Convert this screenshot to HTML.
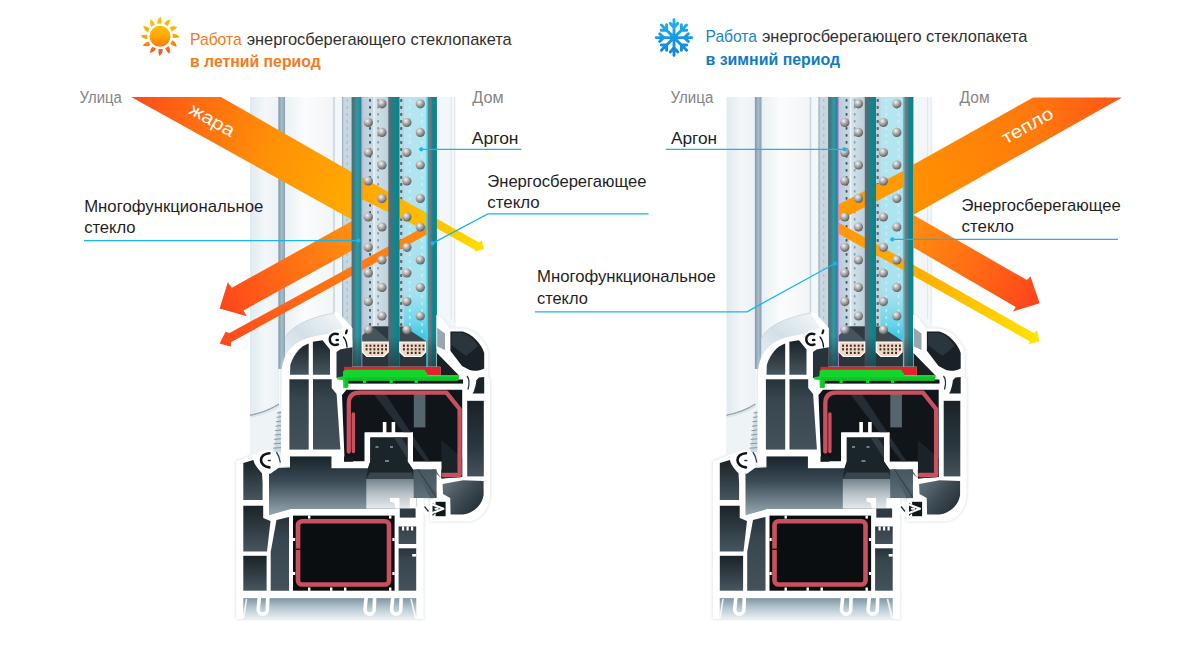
<!DOCTYPE html>
<html lang="ru"><head><meta charset="utf-8"><title>Энергосберегающий стеклопакет</title>
<style>html,body{margin:0;padding:0;background:#fff}body{width:1203px;height:650px;overflow:hidden;font-family:"Liberation Sans",sans-serif}svg{display:block}text{font-family:"Liberation Sans",sans-serif}</style></head><body>
<svg width="1203" height="650" viewBox="0 0 1203 650">

<defs>
<radialGradient id="ball" cx="0.38" cy="0.32" r="0.7">
 <stop offset="0" stop-color="#f4f4f4"/><stop offset="0.5" stop-color="#a8a8a8"/><stop offset="1" stop-color="#5a5a5a"/>
</radialGradient>
<linearGradient id="bgL" x1="250" x2="284" gradientUnits="userSpaceOnUse">
 <stop offset="0" stop-color="#e0eaf0"/><stop offset="0.45" stop-color="#f3f7f9"/><stop offset="1" stop-color="#e8eff3"/>
</linearGradient>
<linearGradient id="bgM" x1="285" x2="342" gradientUnits="userSpaceOnUse">
 <stop offset="0" stop-color="#e9f0f4"/><stop offset="0.35" stop-color="#fbfcfd"/><stop offset="0.8" stop-color="#f3f6f8"/><stop offset="1" stop-color="#dfe7ec"/>
</linearGradient>
<linearGradient id="stripe" x1="278.4" x2="285" gradientUnits="userSpaceOnUse">
 <stop offset="0" stop-color="#7d97a5"/><stop offset="0.5" stop-color="#a9bdc8"/><stop offset="1" stop-color="#86a0ad"/>
</linearGradient>
<linearGradient id="gOut" x1="351.5" x2="361.5" gradientUnits="userSpaceOnUse">
 <stop offset="0" stop-color="#4f6b78"/><stop offset="0.3" stop-color="#3f7f88"/><stop offset="0.55" stop-color="#2f9aa0"/><stop offset="1" stop-color="#1d868c"/>
</linearGradient>
<linearGradient id="gMid" x1="388" x2="399.5" gradientUnits="userSpaceOnUse">
 <stop offset="0" stop-color="#56707c"/><stop offset="0.35" stop-color="#4b6c78"/><stop offset="0.45" stop-color="#12878e"/><stop offset="1" stop-color="#0f8088"/>
</linearGradient>
<linearGradient id="gIn" x1="427.5" x2="437" gradientUnits="userSpaceOnUse">
 <stop offset="0" stop-color="#6c848e"/><stop offset="0.4" stop-color="#5d7681"/><stop offset="0.5" stop-color="#12878e"/><stop offset="1" stop-color="#0f8088"/>
</linearGradient>
<linearGradient id="ch1" x1="361.5" x2="388.5" gradientUnits="userSpaceOnUse">
 <stop offset="0" stop-color="#b9cdd6"/><stop offset="0.4" stop-color="#c6d7df"/><stop offset="0.5" stop-color="#d6e3e9"/><stop offset="1" stop-color="#bccfd8"/>
</linearGradient>
<linearGradient id="ch2v" y1="97" y2="342" x1="0" x2="0" gradientUnits="userSpaceOnUse">
 <stop offset="0" stop-color="#b7e6f0"/><stop offset="0.8" stop-color="#a6e2ee"/><stop offset="0.92" stop-color="#6fd6ea"/><stop offset="1" stop-color="#2cc2e2"/>
</linearGradient>
<linearGradient id="hotIn" x1="131" y1="97" x2="352" y2="200" gradientUnits="userSpaceOnUse">
 <stop offset="0" stop-color="#ff4a1c"/><stop offset="0.3" stop-color="#ff7010"/><stop offset="0.6" stop-color="#ff9006"/><stop offset="1" stop-color="#ffaa00"/>
</linearGradient>
<linearGradient id="hotThru" x1="361" y1="185" x2="484" y2="248" gradientUnits="userSpaceOnUse">
 <stop offset="0" stop-color="#ffa600"/><stop offset="0.55" stop-color="#ffbe00"/><stop offset="1" stop-color="#ffe000"/>
</linearGradient>
<linearGradient id="hotRefl" x1="352" y1="235" x2="222" y2="305" gradientUnits="userSpaceOnUse">
 <stop offset="0" stop-color="#ff8e12"/><stop offset="0.5" stop-color="#ff6d14"/><stop offset="1" stop-color="#ff461c"/>
</linearGradient>
<linearGradient id="hotRefl2" x1="426" y1="230" x2="222" y2="340" gradientUnits="userSpaceOnUse">
 <stop offset="0" stop-color="#ff8a10"/><stop offset="0.5" stop-color="#ff7212"/><stop offset="1" stop-color="#ff4a1c"/>
</linearGradient>
<linearGradient id="warmIn" x1="1122" y1="97" x2="913" y2="200" gradientUnits="userSpaceOnUse">
 <stop offset="0" stop-color="#ff5418"/><stop offset="0.4" stop-color="#ff7a0c"/><stop offset="1" stop-color="#ff9200"/>
</linearGradient>
<linearGradient id="warmRefl" x1="913" y1="230" x2="1038" y2="300" gradientUnits="userSpaceOnUse">
 <stop offset="0" stop-color="#ff8c10"/><stop offset="0.5" stop-color="#ff6c14"/><stop offset="1" stop-color="#ff441c"/>
</linearGradient>
<linearGradient id="warmRefl2" x1="839" y1="225" x2="1038" y2="338" gradientUnits="userSpaceOnUse">
 <stop offset="0" stop-color="#ff960c"/><stop offset="0.5" stop-color="#ffb400"/><stop offset="1" stop-color="#ffe400"/>
</linearGradient>
<linearGradient id="rebate" x1="0" y1="456" x2="0" y2="514" gradientUnits="userSpaceOnUse">
 <stop offset="0" stop-color="#18222a"/><stop offset="0.45" stop-color="#3c4c57"/><stop offset="1" stop-color="#93a5af"/>
</linearGradient>
<linearGradient id="block" x1="0" y1="479" x2="0" y2="508" gradientUnits="userSpaceOnUse">
 <stop offset="0" stop-color="#74848c"/><stop offset="0.5" stop-color="#b6c1c7"/><stop offset="1" stop-color="#e2e8eb"/>
</linearGradient>
<linearGradient id="chv" x1="0" y1="0" x2="0" y2="1">
 <stop offset="0" stop-color="#27333a"/><stop offset="0.3" stop-color="#38464f"/><stop offset="1" stop-color="#43515a"/>
</linearGradient>
<linearGradient id="chH" x1="0" y1="0" x2="0" y2="1">
 <stop offset="0" stop-color="#192228"/><stop offset="0.6" stop-color="#2b373e"/><stop offset="1" stop-color="#44525b"/>
</linearGradient>
<linearGradient id="chv2" x1="0" y1="0" x2="0" y2="1">
 <stop offset="0" stop-color="#1a2227"/><stop offset="1" stop-color="#46565f"/>
</linearGradient>
<linearGradient id="chh" x1="0" y1="0" x2="1" y2="0">
 <stop offset="0" stop-color="#2a363d"/><stop offset="1" stop-color="#56666f"/>
</linearGradient>
<linearGradient id="nose" x1="445" y1="482" x2="482" y2="514" gradientUnits="userSpaceOnUse">
 <stop offset="0" stop-color="#63737c"/><stop offset="0.5" stop-color="#3b4951"/><stop offset="1" stop-color="#1f2a30"/>
</linearGradient>
<linearGradient id="under" x1="0" y1="598" x2="0" y2="619" gradientUnits="userSpaceOnUse">
 <stop offset="0" stop-color="#7f95a3"/><stop offset="0.45" stop-color="#b3c4ce"/><stop offset="1" stop-color="#eaf0f4"/>
</linearGradient>
<linearGradient id="sashSurf" x1="285" y1="365" x2="330" y2="312" gradientUnits="userSpaceOnUse">
 <stop offset="0" stop-color="#e9eff3"/><stop offset="0.5" stop-color="#d3dfe7"/><stop offset="1" stop-color="#eef3f6"/>
</linearGradient>
<linearGradient id="gdark" x1="0" y1="336" x2="0" y2="367" gradientUnits="userSpaceOnUse"><stop offset="0" stop-color="#1c272d" stop-opacity="0"/><stop offset="0.5" stop-color="#1c272d" stop-opacity="0.35"/><stop offset="1" stop-color="#1c272d" stop-opacity="0.6"/></linearGradient>
<filter id="halo" x="-10%" y="-10%" width="120%" height="120%"><feGaussianBlur stdDeviation="1.6"/></filter>
<linearGradient id="sunG" x1="0" y1="17" x2="0" y2="56" gradientUnits="userSpaceOnUse">
 <stop offset="0" stop-color="#ffc400"/><stop offset="0.45" stop-color="#ffa800"/><stop offset="0.75" stop-color="#ff7a14"/><stop offset="1" stop-color="#ff3c22"/>
</linearGradient>
<linearGradient id="sunD" x1="0" y1="26" x2="0" y2="47" gradientUnits="userSpaceOnUse">
 <stop offset="0" stop-color="#ffbe00"/><stop offset="0.5" stop-color="#ffa600"/><stop offset="1" stop-color="#ff7410"/>
</linearGradient>
<linearGradient id="snowG" x1="0" y1="19" x2="0" y2="56" gradientUnits="userSpaceOnUse">
 <stop offset="0" stop-color="#22b2f0"/><stop offset="1" stop-color="#0e84d6"/>
</linearGradient>

<g id="winback"><rect x="250" y="97" width="29" height="365" fill="url(#bgL)"/>
<rect x="284.5" y="97" width="58" height="270" fill="url(#bgM)"/>
<rect x="278.4" y="97" width="6.6" height="272" fill="url(#stripe)"/>
<rect x="333.2" y="97" width="9" height="240" fill="#f4f7f9"/><rect x="333.2" y="97" width="1.6" height="240" fill="#cbd7df"/>
<rect x="342" y="97" width="10" height="260" fill="#c9d8e0"/>
<rect x="342" y="97" width="1.2" height="260" fill="#9fb3be"/>
<rect x="346.4" y="99.0" width="1.6" height="3" rx="0.7" fill="#aebfc9" opacity="0.9"/>
<rect x="346.4" y="106.0" width="1.6" height="3" rx="0.7" fill="#aebfc9" opacity="0.9"/>
<rect x="346.4" y="113.0" width="1.6" height="3" rx="0.7" fill="#aebfc9" opacity="0.9"/>
<rect x="346.4" y="120.0" width="1.6" height="3" rx="0.7" fill="#aebfc9" opacity="0.9"/>
<rect x="346.4" y="127.0" width="1.6" height="3" rx="0.7" fill="#aebfc9" opacity="0.9"/>
<rect x="346.4" y="134.0" width="1.6" height="3" rx="0.7" fill="#aebfc9" opacity="0.9"/>
<rect x="346.4" y="141.0" width="1.6" height="3" rx="0.7" fill="#aebfc9" opacity="0.9"/>
<rect x="346.4" y="148.0" width="1.6" height="3" rx="0.7" fill="#aebfc9" opacity="0.9"/>
<rect x="346.4" y="155.0" width="1.6" height="3" rx="0.7" fill="#aebfc9" opacity="0.9"/>
<rect x="346.4" y="162.0" width="1.6" height="3" rx="0.7" fill="#aebfc9" opacity="0.9"/>
<rect x="346.4" y="169.0" width="1.6" height="3" rx="0.7" fill="#aebfc9" opacity="0.9"/>
<rect x="346.4" y="176.0" width="1.6" height="3" rx="0.7" fill="#aebfc9" opacity="0.9"/>
<rect x="346.4" y="183.0" width="1.6" height="3" rx="0.7" fill="#aebfc9" opacity="0.9"/>
<rect x="346.4" y="190.0" width="1.6" height="3" rx="0.7" fill="#aebfc9" opacity="0.9"/>
<rect x="346.4" y="197.0" width="1.6" height="3" rx="0.7" fill="#aebfc9" opacity="0.9"/>
<rect x="346.4" y="204.0" width="1.6" height="3" rx="0.7" fill="#aebfc9" opacity="0.9"/>
<rect x="346.4" y="211.0" width="1.6" height="3" rx="0.7" fill="#aebfc9" opacity="0.9"/>
<rect x="346.4" y="218.0" width="1.6" height="3" rx="0.7" fill="#aebfc9" opacity="0.9"/>
<rect x="346.4" y="225.0" width="1.6" height="3" rx="0.7" fill="#aebfc9" opacity="0.9"/>
<rect x="346.4" y="232.0" width="1.6" height="3" rx="0.7" fill="#aebfc9" opacity="0.9"/>
<rect x="346.4" y="239.0" width="1.6" height="3" rx="0.7" fill="#aebfc9" opacity="0.9"/>
<rect x="346.4" y="246.0" width="1.6" height="3" rx="0.7" fill="#aebfc9" opacity="0.9"/>
<rect x="346.4" y="253.0" width="1.6" height="3" rx="0.7" fill="#aebfc9" opacity="0.9"/>
<rect x="346.4" y="260.0" width="1.6" height="3" rx="0.7" fill="#aebfc9" opacity="0.9"/>
<rect x="346.4" y="267.0" width="1.6" height="3" rx="0.7" fill="#aebfc9" opacity="0.9"/>
<rect x="346.4" y="274.0" width="1.6" height="3" rx="0.7" fill="#aebfc9" opacity="0.9"/>
<rect x="346.4" y="281.0" width="1.6" height="3" rx="0.7" fill="#aebfc9" opacity="0.9"/>
<rect x="346.4" y="288.0" width="1.6" height="3" rx="0.7" fill="#aebfc9" opacity="0.9"/>
<rect x="346.4" y="295.0" width="1.6" height="3" rx="0.7" fill="#aebfc9" opacity="0.9"/>
<rect x="346.4" y="302.0" width="1.6" height="3" rx="0.7" fill="#aebfc9" opacity="0.9"/>
<rect x="346.4" y="309.0" width="1.6" height="3" rx="0.7" fill="#aebfc9" opacity="0.9"/>
<rect x="346.4" y="316.0" width="1.6" height="3" rx="0.7" fill="#aebfc9" opacity="0.9"/>
<rect x="346.4" y="323.0" width="1.6" height="3" rx="0.7" fill="#aebfc9" opacity="0.9"/>
<rect x="346.4" y="330.0" width="1.6" height="3" rx="0.7" fill="#aebfc9" opacity="0.9"/>
<rect x="346.4" y="337.0" width="1.6" height="3" rx="0.7" fill="#aebfc9" opacity="0.9"/>
<rect x="346.4" y="344.0" width="1.6" height="3" rx="0.7" fill="#aebfc9" opacity="0.9"/>
<rect x="436.5" y="97" width="19.5" height="230" fill="#f4f7f9"/>
<rect x="450.6" y="97" width="1" height="222" fill="#dde6eb"/>
<rect x="454" y="97" width="1" height="226" fill="#e3eaef"/>
<rect x="361.5" y="97" width="27.5" height="260" fill="url(#ch1)"/>
<rect x="373.4" y="97" width="1.3" height="245" fill="#eef4f7"/>
<rect x="369.1" y="99.0" width="1.9" height="2.8" rx="0.7" fill="#2d5a78" opacity="1"/>
<rect x="369.1" y="106.0" width="1.9" height="2.8" rx="0.7" fill="#2d5a78" opacity="1"/>
<rect x="369.1" y="113.0" width="1.9" height="2.8" rx="0.7" fill="#2d5a78" opacity="1"/>
<rect x="369.1" y="120.0" width="1.9" height="2.8" rx="0.7" fill="#2d5a78" opacity="1"/>
<rect x="369.1" y="127.0" width="1.9" height="2.8" rx="0.7" fill="#2d5a78" opacity="1"/>
<rect x="369.1" y="134.0" width="1.9" height="2.8" rx="0.7" fill="#2d5a78" opacity="1"/>
<rect x="369.1" y="141.0" width="1.9" height="2.8" rx="0.7" fill="#2d5a78" opacity="1"/>
<rect x="369.1" y="148.0" width="1.9" height="2.8" rx="0.7" fill="#2d5a78" opacity="1"/>
<rect x="369.1" y="155.0" width="1.9" height="2.8" rx="0.7" fill="#2d5a78" opacity="1"/>
<rect x="369.1" y="162.0" width="1.9" height="2.8" rx="0.7" fill="#2d5a78" opacity="1"/>
<rect x="369.1" y="169.0" width="1.9" height="2.8" rx="0.7" fill="#2d5a78" opacity="1"/>
<rect x="369.1" y="176.0" width="1.9" height="2.8" rx="0.7" fill="#2d5a78" opacity="1"/>
<rect x="369.1" y="183.0" width="1.9" height="2.8" rx="0.7" fill="#2d5a78" opacity="1"/>
<rect x="369.1" y="190.0" width="1.9" height="2.8" rx="0.7" fill="#2d5a78" opacity="1"/>
<rect x="369.1" y="197.0" width="1.9" height="2.8" rx="0.7" fill="#2d5a78" opacity="1"/>
<rect x="369.1" y="204.0" width="1.9" height="2.8" rx="0.7" fill="#2d5a78" opacity="1"/>
<rect x="369.1" y="211.0" width="1.9" height="2.8" rx="0.7" fill="#2d5a78" opacity="1"/>
<rect x="369.1" y="218.0" width="1.9" height="2.8" rx="0.7" fill="#2d5a78" opacity="1"/>
<rect x="369.1" y="225.0" width="1.9" height="2.8" rx="0.7" fill="#2d5a78" opacity="1"/>
<rect x="369.1" y="232.0" width="1.9" height="2.8" rx="0.7" fill="#2d5a78" opacity="1"/>
<rect x="369.1" y="239.0" width="1.9" height="2.8" rx="0.7" fill="#2d5a78" opacity="1"/>
<rect x="369.1" y="246.0" width="1.9" height="2.8" rx="0.7" fill="#2d5a78" opacity="1"/>
<rect x="369.1" y="253.0" width="1.9" height="2.8" rx="0.7" fill="#2d5a78" opacity="1"/>
<rect x="369.1" y="260.0" width="1.9" height="2.8" rx="0.7" fill="#2d5a78" opacity="1"/>
<rect x="369.1" y="267.0" width="1.9" height="2.8" rx="0.7" fill="#2d5a78" opacity="1"/>
<rect x="369.1" y="274.0" width="1.9" height="2.8" rx="0.7" fill="#2d5a78" opacity="1"/>
<rect x="369.1" y="281.0" width="1.9" height="2.8" rx="0.7" fill="#2d5a78" opacity="1"/>
<rect x="369.1" y="288.0" width="1.9" height="2.8" rx="0.7" fill="#2d5a78" opacity="1"/>
<rect x="369.1" y="295.0" width="1.9" height="2.8" rx="0.7" fill="#2d5a78" opacity="1"/>
<rect x="369.1" y="302.0" width="1.9" height="2.8" rx="0.7" fill="#2d5a78" opacity="1"/>
<rect x="369.1" y="309.0" width="1.9" height="2.8" rx="0.7" fill="#2d5a78" opacity="1"/>
<rect x="369.1" y="316.0" width="1.9" height="2.8" rx="0.7" fill="#2d5a78" opacity="1"/>
<rect x="369.1" y="323.0" width="1.9" height="2.8" rx="0.7" fill="#2d5a78" opacity="1"/>
<rect x="377.3" y="99.0" width="1.7" height="2.6" rx="0.7" fill="#5f8fae" opacity="0.8"/>
<rect x="377.3" y="106.0" width="1.7" height="2.6" rx="0.7" fill="#5f8fae" opacity="0.8"/>
<rect x="377.3" y="113.0" width="1.7" height="2.6" rx="0.7" fill="#5f8fae" opacity="0.8"/>
<rect x="377.3" y="120.0" width="1.7" height="2.6" rx="0.7" fill="#5f8fae" opacity="0.8"/>
<rect x="377.3" y="127.0" width="1.7" height="2.6" rx="0.7" fill="#5f8fae" opacity="0.8"/>
<rect x="377.3" y="134.0" width="1.7" height="2.6" rx="0.7" fill="#5f8fae" opacity="0.8"/>
<rect x="377.3" y="141.0" width="1.7" height="2.6" rx="0.7" fill="#5f8fae" opacity="0.8"/>
<rect x="377.3" y="148.0" width="1.7" height="2.6" rx="0.7" fill="#5f8fae" opacity="0.8"/>
<rect x="377.3" y="155.0" width="1.7" height="2.6" rx="0.7" fill="#5f8fae" opacity="0.8"/>
<rect x="377.3" y="162.0" width="1.7" height="2.6" rx="0.7" fill="#5f8fae" opacity="0.8"/>
<rect x="377.3" y="169.0" width="1.7" height="2.6" rx="0.7" fill="#5f8fae" opacity="0.8"/>
<rect x="377.3" y="176.0" width="1.7" height="2.6" rx="0.7" fill="#5f8fae" opacity="0.8"/>
<rect x="377.3" y="183.0" width="1.7" height="2.6" rx="0.7" fill="#5f8fae" opacity="0.8"/>
<rect x="377.3" y="190.0" width="1.7" height="2.6" rx="0.7" fill="#5f8fae" opacity="0.8"/>
<rect x="377.3" y="197.0" width="1.7" height="2.6" rx="0.7" fill="#5f8fae" opacity="0.8"/>
<rect x="377.3" y="204.0" width="1.7" height="2.6" rx="0.7" fill="#5f8fae" opacity="0.8"/>
<rect x="377.3" y="211.0" width="1.7" height="2.6" rx="0.7" fill="#5f8fae" opacity="0.8"/>
<rect x="377.3" y="218.0" width="1.7" height="2.6" rx="0.7" fill="#5f8fae" opacity="0.8"/>
<rect x="377.3" y="225.0" width="1.7" height="2.6" rx="0.7" fill="#5f8fae" opacity="0.8"/>
<rect x="377.3" y="232.0" width="1.7" height="2.6" rx="0.7" fill="#5f8fae" opacity="0.8"/>
<rect x="377.3" y="239.0" width="1.7" height="2.6" rx="0.7" fill="#5f8fae" opacity="0.8"/>
<rect x="377.3" y="246.0" width="1.7" height="2.6" rx="0.7" fill="#5f8fae" opacity="0.8"/>
<rect x="377.3" y="253.0" width="1.7" height="2.6" rx="0.7" fill="#5f8fae" opacity="0.8"/>
<rect x="377.3" y="260.0" width="1.7" height="2.6" rx="0.7" fill="#5f8fae" opacity="0.8"/>
<rect x="377.3" y="267.0" width="1.7" height="2.6" rx="0.7" fill="#5f8fae" opacity="0.8"/>
<rect x="377.3" y="274.0" width="1.7" height="2.6" rx="0.7" fill="#5f8fae" opacity="0.8"/>
<rect x="377.3" y="281.0" width="1.7" height="2.6" rx="0.7" fill="#5f8fae" opacity="0.8"/>
<rect x="377.3" y="288.0" width="1.7" height="2.6" rx="0.7" fill="#5f8fae" opacity="0.8"/>
<rect x="377.3" y="295.0" width="1.7" height="2.6" rx="0.7" fill="#5f8fae" opacity="0.8"/>
<rect x="377.3" y="302.0" width="1.7" height="2.6" rx="0.7" fill="#5f8fae" opacity="0.8"/>
<rect x="377.3" y="309.0" width="1.7" height="2.6" rx="0.7" fill="#5f8fae" opacity="0.8"/>
<rect x="377.3" y="316.0" width="1.7" height="2.6" rx="0.7" fill="#5f8fae" opacity="0.8"/>
<rect x="377.3" y="323.0" width="1.7" height="2.6" rx="0.7" fill="#5f8fae" opacity="0.8"/>
<rect x="399.3" y="97" width="27.5" height="260" fill="url(#ch2v)"/>
<rect x="399.3" y="97" width="4.7" height="245" fill="#c4d2d9"/>
<rect x="400.1" y="99.0" width="2.2" height="3" rx="0.7" fill="#4a6a7e" opacity="1"/>
<rect x="400.1" y="106.0" width="2.2" height="3" rx="0.7" fill="#4a6a7e" opacity="1"/>
<rect x="400.1" y="113.0" width="2.2" height="3" rx="0.7" fill="#4a6a7e" opacity="1"/>
<rect x="400.1" y="120.0" width="2.2" height="3" rx="0.7" fill="#4a6a7e" opacity="1"/>
<rect x="400.1" y="127.0" width="2.2" height="3" rx="0.7" fill="#4a6a7e" opacity="1"/>
<rect x="400.1" y="134.0" width="2.2" height="3" rx="0.7" fill="#4a6a7e" opacity="1"/>
<rect x="400.1" y="141.0" width="2.2" height="3" rx="0.7" fill="#4a6a7e" opacity="1"/>
<rect x="400.1" y="148.0" width="2.2" height="3" rx="0.7" fill="#4a6a7e" opacity="1"/>
<rect x="400.1" y="155.0" width="2.2" height="3" rx="0.7" fill="#4a6a7e" opacity="1"/>
<rect x="400.1" y="162.0" width="2.2" height="3" rx="0.7" fill="#4a6a7e" opacity="1"/>
<rect x="400.1" y="169.0" width="2.2" height="3" rx="0.7" fill="#4a6a7e" opacity="1"/>
<rect x="400.1" y="176.0" width="2.2" height="3" rx="0.7" fill="#4a6a7e" opacity="1"/>
<rect x="400.1" y="183.0" width="2.2" height="3" rx="0.7" fill="#4a6a7e" opacity="1"/>
<rect x="400.1" y="190.0" width="2.2" height="3" rx="0.7" fill="#4a6a7e" opacity="1"/>
<rect x="400.1" y="197.0" width="2.2" height="3" rx="0.7" fill="#4a6a7e" opacity="1"/>
<rect x="400.1" y="204.0" width="2.2" height="3" rx="0.7" fill="#4a6a7e" opacity="1"/>
<rect x="400.1" y="211.0" width="2.2" height="3" rx="0.7" fill="#4a6a7e" opacity="1"/>
<rect x="400.1" y="218.0" width="2.2" height="3" rx="0.7" fill="#4a6a7e" opacity="1"/>
<rect x="400.1" y="225.0" width="2.2" height="3" rx="0.7" fill="#4a6a7e" opacity="1"/>
<rect x="400.1" y="232.0" width="2.2" height="3" rx="0.7" fill="#4a6a7e" opacity="1"/>
<rect x="400.1" y="239.0" width="2.2" height="3" rx="0.7" fill="#4a6a7e" opacity="1"/>
<rect x="400.1" y="246.0" width="2.2" height="3" rx="0.7" fill="#4a6a7e" opacity="1"/>
<rect x="400.1" y="253.0" width="2.2" height="3" rx="0.7" fill="#4a6a7e" opacity="1"/>
<rect x="400.1" y="260.0" width="2.2" height="3" rx="0.7" fill="#4a6a7e" opacity="1"/>
<rect x="400.1" y="267.0" width="2.2" height="3" rx="0.7" fill="#4a6a7e" opacity="1"/>
<rect x="400.1" y="274.0" width="2.2" height="3" rx="0.7" fill="#4a6a7e" opacity="1"/>
<rect x="400.1" y="281.0" width="2.2" height="3" rx="0.7" fill="#4a6a7e" opacity="1"/>
<rect x="400.1" y="288.0" width="2.2" height="3" rx="0.7" fill="#4a6a7e" opacity="1"/>
<rect x="400.1" y="295.0" width="2.2" height="3" rx="0.7" fill="#4a6a7e" opacity="1"/>
<rect x="400.1" y="302.0" width="2.2" height="3" rx="0.7" fill="#4a6a7e" opacity="1"/>
<rect x="400.1" y="309.0" width="2.2" height="3" rx="0.7" fill="#4a6a7e" opacity="1"/>
<rect x="400.1" y="316.0" width="2.2" height="3" rx="0.7" fill="#4a6a7e" opacity="1"/>
<rect x="400.1" y="323.0" width="2.2" height="3" rx="0.7" fill="#4a6a7e" opacity="1"/>
<rect x="409.0" y="99.0" width="1.6" height="3" rx="0.7" fill="#d6f3f8" opacity="0.8"/>
<rect x="409.0" y="106.0" width="1.6" height="3" rx="0.7" fill="#d6f3f8" opacity="0.8"/>
<rect x="409.0" y="113.0" width="1.6" height="3" rx="0.7" fill="#d6f3f8" opacity="0.8"/>
<rect x="409.0" y="120.0" width="1.6" height="3" rx="0.7" fill="#d6f3f8" opacity="0.8"/>
<rect x="409.0" y="127.0" width="1.6" height="3" rx="0.7" fill="#d6f3f8" opacity="0.8"/>
<rect x="409.0" y="134.0" width="1.6" height="3" rx="0.7" fill="#d6f3f8" opacity="0.8"/>
<rect x="409.0" y="141.0" width="1.6" height="3" rx="0.7" fill="#d6f3f8" opacity="0.8"/>
<rect x="409.0" y="148.0" width="1.6" height="3" rx="0.7" fill="#d6f3f8" opacity="0.8"/>
<rect x="409.0" y="155.0" width="1.6" height="3" rx="0.7" fill="#d6f3f8" opacity="0.8"/>
<rect x="409.0" y="162.0" width="1.6" height="3" rx="0.7" fill="#d6f3f8" opacity="0.8"/>
<rect x="409.0" y="169.0" width="1.6" height="3" rx="0.7" fill="#d6f3f8" opacity="0.8"/>
<rect x="409.0" y="176.0" width="1.6" height="3" rx="0.7" fill="#d6f3f8" opacity="0.8"/>
<rect x="409.0" y="183.0" width="1.6" height="3" rx="0.7" fill="#d6f3f8" opacity="0.8"/>
<rect x="409.0" y="190.0" width="1.6" height="3" rx="0.7" fill="#d6f3f8" opacity="0.8"/>
<rect x="409.0" y="197.0" width="1.6" height="3" rx="0.7" fill="#d6f3f8" opacity="0.8"/>
<rect x="409.0" y="204.0" width="1.6" height="3" rx="0.7" fill="#d6f3f8" opacity="0.8"/>
<rect x="409.0" y="211.0" width="1.6" height="3" rx="0.7" fill="#d6f3f8" opacity="0.8"/>
<rect x="409.0" y="218.0" width="1.6" height="3" rx="0.7" fill="#d6f3f8" opacity="0.8"/>
<rect x="409.0" y="225.0" width="1.6" height="3" rx="0.7" fill="#d6f3f8" opacity="0.8"/>
<rect x="409.0" y="232.0" width="1.6" height="3" rx="0.7" fill="#d6f3f8" opacity="0.8"/>
<rect x="409.0" y="239.0" width="1.6" height="3" rx="0.7" fill="#d6f3f8" opacity="0.8"/>
<rect x="409.0" y="246.0" width="1.6" height="3" rx="0.7" fill="#d6f3f8" opacity="0.8"/>
<rect x="409.0" y="253.0" width="1.6" height="3" rx="0.7" fill="#d6f3f8" opacity="0.8"/>
<rect x="409.0" y="260.0" width="1.6" height="3" rx="0.7" fill="#d6f3f8" opacity="0.8"/>
<rect x="409.0" y="267.0" width="1.6" height="3" rx="0.7" fill="#d6f3f8" opacity="0.8"/>
<rect x="409.0" y="274.0" width="1.6" height="3" rx="0.7" fill="#d6f3f8" opacity="0.8"/>
<rect x="409.0" y="281.0" width="1.6" height="3" rx="0.7" fill="#d6f3f8" opacity="0.8"/>
<rect x="409.0" y="288.0" width="1.6" height="3" rx="0.7" fill="#d6f3f8" opacity="0.8"/>
<rect x="409.0" y="295.0" width="1.6" height="3" rx="0.7" fill="#d6f3f8" opacity="0.8"/>
<rect x="409.0" y="302.0" width="1.6" height="3" rx="0.7" fill="#d6f3f8" opacity="0.8"/>
<rect x="409.0" y="309.0" width="1.6" height="3" rx="0.7" fill="#d6f3f8" opacity="0.8"/>
<rect x="409.0" y="316.0" width="1.6" height="3" rx="0.7" fill="#d6f3f8" opacity="0.8"/>
<rect x="409.0" y="323.0" width="1.6" height="3" rx="0.7" fill="#d6f3f8" opacity="0.8"/>
<rect x="421.2" y="99.0" width="1.6" height="3" rx="0.7" fill="#d6f3f8" opacity="0.8"/>
<rect x="421.2" y="106.0" width="1.6" height="3" rx="0.7" fill="#d6f3f8" opacity="0.8"/>
<rect x="421.2" y="113.0" width="1.6" height="3" rx="0.7" fill="#d6f3f8" opacity="0.8"/>
<rect x="421.2" y="120.0" width="1.6" height="3" rx="0.7" fill="#d6f3f8" opacity="0.8"/>
<rect x="421.2" y="127.0" width="1.6" height="3" rx="0.7" fill="#d6f3f8" opacity="0.8"/>
<rect x="421.2" y="134.0" width="1.6" height="3" rx="0.7" fill="#d6f3f8" opacity="0.8"/>
<rect x="421.2" y="141.0" width="1.6" height="3" rx="0.7" fill="#d6f3f8" opacity="0.8"/>
<rect x="421.2" y="148.0" width="1.6" height="3" rx="0.7" fill="#d6f3f8" opacity="0.8"/>
<rect x="421.2" y="155.0" width="1.6" height="3" rx="0.7" fill="#d6f3f8" opacity="0.8"/>
<rect x="421.2" y="162.0" width="1.6" height="3" rx="0.7" fill="#d6f3f8" opacity="0.8"/>
<rect x="421.2" y="169.0" width="1.6" height="3" rx="0.7" fill="#d6f3f8" opacity="0.8"/>
<rect x="421.2" y="176.0" width="1.6" height="3" rx="0.7" fill="#d6f3f8" opacity="0.8"/>
<rect x="421.2" y="183.0" width="1.6" height="3" rx="0.7" fill="#d6f3f8" opacity="0.8"/>
<rect x="421.2" y="190.0" width="1.6" height="3" rx="0.7" fill="#d6f3f8" opacity="0.8"/>
<rect x="421.2" y="197.0" width="1.6" height="3" rx="0.7" fill="#d6f3f8" opacity="0.8"/>
<rect x="421.2" y="204.0" width="1.6" height="3" rx="0.7" fill="#d6f3f8" opacity="0.8"/>
<rect x="421.2" y="211.0" width="1.6" height="3" rx="0.7" fill="#d6f3f8" opacity="0.8"/>
<rect x="421.2" y="218.0" width="1.6" height="3" rx="0.7" fill="#d6f3f8" opacity="0.8"/>
<rect x="421.2" y="225.0" width="1.6" height="3" rx="0.7" fill="#d6f3f8" opacity="0.8"/>
<rect x="421.2" y="232.0" width="1.6" height="3" rx="0.7" fill="#d6f3f8" opacity="0.8"/>
<rect x="421.2" y="239.0" width="1.6" height="3" rx="0.7" fill="#d6f3f8" opacity="0.8"/>
<rect x="421.2" y="246.0" width="1.6" height="3" rx="0.7" fill="#d6f3f8" opacity="0.8"/>
<rect x="421.2" y="253.0" width="1.6" height="3" rx="0.7" fill="#d6f3f8" opacity="0.8"/>
<rect x="421.2" y="260.0" width="1.6" height="3" rx="0.7" fill="#d6f3f8" opacity="0.8"/>
<rect x="421.2" y="267.0" width="1.6" height="3" rx="0.7" fill="#d6f3f8" opacity="0.8"/>
<rect x="421.2" y="274.0" width="1.6" height="3" rx="0.7" fill="#d6f3f8" opacity="0.8"/>
<rect x="421.2" y="281.0" width="1.6" height="3" rx="0.7" fill="#d6f3f8" opacity="0.8"/>
<rect x="421.2" y="288.0" width="1.6" height="3" rx="0.7" fill="#d6f3f8" opacity="0.8"/>
<rect x="421.2" y="295.0" width="1.6" height="3" rx="0.7" fill="#d6f3f8" opacity="0.8"/>
<rect x="421.2" y="302.0" width="1.6" height="3" rx="0.7" fill="#d6f3f8" opacity="0.8"/>
<rect x="421.2" y="309.0" width="1.6" height="3" rx="0.7" fill="#d6f3f8" opacity="0.8"/>
<rect x="421.2" y="316.0" width="1.6" height="3" rx="0.7" fill="#d6f3f8" opacity="0.8"/>
<rect x="421.2" y="323.0" width="1.6" height="3" rx="0.7" fill="#d6f3f8" opacity="0.8"/>
<rect x="421.2" y="330.0" width="1.6" height="3" rx="0.7" fill="#d6f3f8" opacity="0.8"/>
<g filter="url(#halo)" fill="#c3d0d9" opacity="0.9"><path d="M236.2,619 L236.2,461.2 L262,451.6 L275.5,452.4 L278,459 L278,500 L423.7,498 L423.7,619Z"/><path d="M281,466.5 L281,372 C282,352 294,339 316,335 L330,334 L333,329 L343,325.5 L350.5,331 L352.3,340 L436.5,340 L436.5,314.8 C441,316 445,322 449.6,328.5 L463.5,328.5 C474,330 484,339 488.2,351 L488.4,377 L490.2,380 L490.2,495 C489,510 480,521 468,521.6 L430,521.6 L430,499 L300,470Z"/></g></g>
<g id="winfront"><path d="M361.5,336 L372,326.5 L389,326.5 L389,343 L361.5,343Z" fill="#46545c"/>
<path d="M373,326.5 L389,341 L389,326.5Z" fill="#2f3a40"/>
<path d="M399.3,326.5 L404,326.5 L426.8,341.6 L426.8,343 L399.3,343Z" fill="#3b484f"/>
<rect x="361.5" y="342" width="27.5" height="25" fill="#2b3439"/>
<rect x="399.3" y="342" width="27.5" height="25" fill="#2b3439"/>
<rect x="351.6" y="97" width="10" height="269.8" fill="url(#gOut)"/>
<rect x="361.2" y="97" width="1.1" height="269.8" fill="#c77be3"/>
<rect x="388.3" y="97" width="11.2" height="269.8" fill="url(#gMid)"/>
<rect x="426.4" y="97" width="1.4" height="269.8" fill="#10e0f0"/>
<rect x="427.7" y="97" width="9.2" height="269.8" fill="url(#gIn)"/>
<rect x="351.6" y="336" width="10" height="30.8" fill="url(#gdark)"/><rect x="388.3" y="336" width="11.2" height="30.8" fill="url(#gdark)"/><rect x="427.7" y="336" width="9.2" height="30.8" fill="url(#gdark)"/>
<path d="M362.4,342 L388.2,342 L388.2,352 L383.7,356.5 L366.9,356.5 L362.4,352Z" fill="#f2d9c4" stroke="#ffffff" stroke-width="1.2"/>
<rect x="365.6" y="344.6" width="1.9" height="2.2" fill="#3a2c26"/>
<rect x="369.5" y="344.6" width="1.9" height="2.2" fill="#3a2c26"/>
<rect x="373.4" y="344.6" width="1.9" height="2.2" fill="#3a2c26"/>
<rect x="377.3" y="344.6" width="1.9" height="2.2" fill="#3a2c26"/>
<rect x="381.2" y="344.6" width="1.9" height="2.2" fill="#3a2c26"/>
<rect x="385.1" y="344.6" width="1.9" height="2.2" fill="#3a2c26"/>
<rect x="365.6" y="348.2" width="1.9" height="2.2" fill="#3a2c26"/>
<rect x="369.5" y="348.2" width="1.9" height="2.2" fill="#3a2c26"/>
<rect x="373.4" y="348.2" width="1.9" height="2.2" fill="#3a2c26"/>
<rect x="377.3" y="348.2" width="1.9" height="2.2" fill="#3a2c26"/>
<rect x="381.2" y="348.2" width="1.9" height="2.2" fill="#3a2c26"/>
<rect x="385.1" y="348.2" width="1.9" height="2.2" fill="#3a2c26"/>
<rect x="369.5" y="351.8" width="1.9" height="2.2" fill="#3a2c26"/>
<rect x="373.4" y="351.8" width="1.9" height="2.2" fill="#3a2c26"/>
<rect x="377.3" y="351.8" width="1.9" height="2.2" fill="#3a2c26"/>
<rect x="381.2" y="351.8" width="1.9" height="2.2" fill="#3a2c26"/>
<path d="M399.8,342 L425.6,342 L425.6,352 L421.1,356.5 L404.3,356.5 L399.8,352Z" fill="#f2d9c4" stroke="#ffffff" stroke-width="1.2"/>
<rect x="403.0" y="344.6" width="1.9" height="2.2" fill="#3a2c26"/>
<rect x="406.9" y="344.6" width="1.9" height="2.2" fill="#3a2c26"/>
<rect x="410.8" y="344.6" width="1.9" height="2.2" fill="#3a2c26"/>
<rect x="414.7" y="344.6" width="1.9" height="2.2" fill="#3a2c26"/>
<rect x="418.6" y="344.6" width="1.9" height="2.2" fill="#3a2c26"/>
<rect x="422.5" y="344.6" width="1.9" height="2.2" fill="#3a2c26"/>
<rect x="403.0" y="348.2" width="1.9" height="2.2" fill="#3a2c26"/>
<rect x="406.9" y="348.2" width="1.9" height="2.2" fill="#3a2c26"/>
<rect x="410.8" y="348.2" width="1.9" height="2.2" fill="#3a2c26"/>
<rect x="414.7" y="348.2" width="1.9" height="2.2" fill="#3a2c26"/>
<rect x="418.6" y="348.2" width="1.9" height="2.2" fill="#3a2c26"/>
<rect x="422.5" y="348.2" width="1.9" height="2.2" fill="#3a2c26"/>
<rect x="406.9" y="351.8" width="1.9" height="2.2" fill="#3a2c26"/>
<rect x="410.8" y="351.8" width="1.9" height="2.2" fill="#3a2c26"/>
<rect x="414.7" y="351.8" width="1.9" height="2.2" fill="#3a2c26"/>
<rect x="418.6" y="351.8" width="1.9" height="2.2" fill="#3a2c26"/>
<circle cx="368.3" cy="122.5" r="4.6" fill="url(#ball)"/>
<circle cx="368.3" cy="152.5" r="4.6" fill="url(#ball)"/>
<circle cx="368.3" cy="181" r="4.6" fill="url(#ball)"/>
<circle cx="368.3" cy="217" r="4.6" fill="url(#ball)"/>
<circle cx="368.3" cy="247.3" r="4.6" fill="url(#ball)"/>
<circle cx="368.3" cy="273" r="4.6" fill="url(#ball)"/>
<circle cx="368.3" cy="301.6" r="4.6" fill="url(#ball)"/>
<circle cx="368.3" cy="329.8" r="4.6" fill="url(#ball)"/>
<circle cx="382" cy="103.8" r="4.6" fill="url(#ball)"/>
<circle cx="382" cy="132.4" r="4.6" fill="url(#ball)"/>
<circle cx="382" cy="165" r="4.6" fill="url(#ball)"/>
<circle cx="382" cy="198.5" r="4.6" fill="url(#ball)"/>
<circle cx="382" cy="227" r="4.6" fill="url(#ball)"/>
<circle cx="382" cy="260" r="4.6" fill="url(#ball)"/>
<circle cx="382" cy="287.4" r="4.6" fill="url(#ball)"/>
<circle cx="382" cy="316" r="4.6" fill="url(#ball)"/>
<circle cx="406.9" cy="122.5" r="4.6" fill="url(#ball)"/>
<circle cx="406.9" cy="152.5" r="4.6" fill="url(#ball)"/>
<circle cx="406.9" cy="181" r="4.6" fill="url(#ball)"/>
<circle cx="406.9" cy="217" r="4.6" fill="url(#ball)"/>
<circle cx="406.9" cy="247.3" r="4.6" fill="url(#ball)"/>
<circle cx="406.9" cy="273" r="4.6" fill="url(#ball)"/>
<circle cx="406.9" cy="301.6" r="4.6" fill="url(#ball)"/>
<circle cx="406.9" cy="329.8" r="4.6" fill="url(#ball)"/>
<circle cx="420.3" cy="103.8" r="4.6" fill="url(#ball)"/>
<circle cx="420.3" cy="132.4" r="4.6" fill="url(#ball)"/>
<circle cx="420.3" cy="165" r="4.6" fill="url(#ball)"/>
<circle cx="420.3" cy="198.5" r="4.6" fill="url(#ball)"/>
<circle cx="420.3" cy="227" r="4.6" fill="url(#ball)"/>
<circle cx="420.3" cy="260" r="4.6" fill="url(#ball)"/>
<circle cx="420.3" cy="287.4" r="4.6" fill="url(#ball)"/>
<circle cx="420.3" cy="316" r="4.6" fill="url(#ball)"/></g>
<g id="prof"><path d="M285,368 L285,338 C291,327 306,318 334.9,312.9 L351,330 L351,337 L328,335 C305,337 292,348 286,368Z" fill="url(#sashSurf)"/>
<path d="M285,338 C291,327 306,318 334.9,312.9" fill="none" stroke="#b9c8d2" stroke-width="0.8" opacity="0.8"/>
<path d="M250,415.5 C262,413.5 271,409.5 278.5,404.5 L281,405 L281,462 L250,462Z" fill="#eef3f6"/>
<path d="M250,415.2 C262,413.2 271,409.2 279,404.2" fill="none" stroke="#93a6b2" stroke-width="1.4"/>
<path d="M250,417 C262,415 271,411 279,406" fill="none" stroke="#dbe4ea" stroke-width="1.6"/>
<path d="M278.6,411 L281,411 L281,452 L274,452Z" fill="#cdd9e0"/>
<path d="M277.0,413.0 L281,412.4" stroke="#8398a5" stroke-width="1"/>
<path d="M276.5,417.4 L281,416.8" stroke="#8398a5" stroke-width="1"/>
<path d="M276.0,421.8 L281,421.2" stroke="#8398a5" stroke-width="1"/>
<path d="M275.5,426.2 L281,425.6" stroke="#8398a5" stroke-width="1"/>
<path d="M275.0,430.6 L281,430.0" stroke="#8398a5" stroke-width="1"/>
<path d="M274.6,435.0 L281,434.4" stroke="#8398a5" stroke-width="1"/>
<path d="M274.1,439.4 L281,438.8" stroke="#8398a5" stroke-width="1"/>
<path d="M273.6,443.8 L281,443.2" stroke="#8398a5" stroke-width="1"/>
<path d="M273.1,448.2 L281,447.6" stroke="#8398a5" stroke-width="1"/>
<path d="M436.5,316 L440,314.8 C445,318 448,324 451,330 L451,352 L436.5,349Z" fill="#edf1f4"/>
<path d="M236.2,598.2 L236.2,461.2 L262,451.6 L275.5,452.4 L278,459 L278,500 L423.7,498 L423.7,598.2Z" fill="#ffffff"/>
<rect x="236.2" y="598" width="7.1" height="21" fill="#ffffff"/><rect x="416.2" y="598" width="7.5" height="21" fill="#ffffff"/>
<rect x="243.3" y="598.2" width="172.9" height="20.8" fill="url(#under)"/>
<path d="M259.4,597 L258.2,609.5 a4.6,4.6 0 0 0 9.2,0 L267.8,597" fill="none" stroke="#ffffff" stroke-width="3.6" stroke-linecap="round"/>
<path d="M366.2,597 L365,609.5 a4.6,4.6 0 0 0 9.2,0 L374.6,597" fill="none" stroke="#ffffff" stroke-width="3.6" stroke-linecap="round"/>
<path d="M392.8,597 L391.6,609.5 a4.6,4.6 0 0 0 9.2,0 L401.20000000000005,597" fill="none" stroke="#ffffff" stroke-width="3.6" stroke-linecap="round"/>
<path d="M246.5,599 L243.6,618" stroke="#ffffff" stroke-width="1.6" opacity="0.85"/><path d="M411,599 L415.6,618" stroke="#ffffff" stroke-width="1.6" opacity="0.85"/>
<path d="M281,466.5 L281.5,372 C283,353 293,341 313.3,336.4 L327,334 L333,331 L343,328 L350.5,331 L352.3,340 L352.3,366.8 L436.5,366.8 L436.5,314.8 C441,316 445,322 449.6,328.5 L463.5,328.5 C474,330 484,339 488.2,351 L488.4,377 L490.2,380 L490.2,495 C489,510 480,521 468,521.6 L430,521.6 L430,499 L436.4,498 L436.4,469.5 L413,469.5 L407.5,461.5 L407.5,437.6 L370.3,437.6 L370.3,461.5 L368,468.3 L331.5,468.3 L331.5,456.5 L290,456.5 L290,466.5Z" fill="#ffffff"/>
<path d="M290,374.8 L308.7,374.8 L308.7,343.4 C301,346 294,353 290.3,365Z" fill="url(#chv2)"/>
<path d="M312.9,374.8 L330,374.8 L330,349.5 L322.5,340.2 L312.9,341.8Z" fill="url(#chv2)"/>
<rect x="289.4" y="379.3" width="19.3" height="70.3" fill="url(#chv)"/>
<path d="M313,379.3 L331.7,379.3 L331.7,388 L336.6,394 L340.4,449.6 L313,449.6Z" fill="url(#chv)"/>
<path d="M336.5,352 L340,349.5 L352.3,347 L352.3,370 L344,370 L343,378 L336.5,378Z" fill="#27323a"/>
<path d="M333.6,312.4 L338.4,312.4 L352.4,328 L352.4,347.2 L347.6,347.6 L346.6,343 C344,348.5 336,350.5 331,347 C326,343 326.5,335 331.5,331.5 C335,329.5 340,329.5 343.5,331 L344.5,329.5Z" fill="#ffffff"/>
<path d="M337.8,334.2 C333.5,332.6 329.6,335.5 329.8,339.6 C330,343.8 334.2,346 338,344.4" fill="none" stroke="#0d1316" stroke-width="2.4" stroke-linecap="round"/>
<ellipse cx="337.2" cy="340" rx="1.9" ry="1.2" fill="#0d1316"/>
<ellipse cx="346.4" cy="331.8" rx="1.2" ry="2.7" transform="rotate(18 346.4 331.8)" fill="#0d1316"/>
<path d="M343.5,337 C345.5,339.5 346.8,343 347,347" fill="none" stroke="#0d1316" stroke-width="1.3" stroke-linecap="round"/>
<path d="M346.4,389.8 L462.2,389.8 L462.2,477 L441.4,478.5 L441.4,461.8 L413,461.8 L413,432.5 L364.7,432.5 L364.7,461.5 L344.6,461.5 L342,395Z" fill="#0f1518"/>
<rect x="413.8" y="394" width="11.6" height="33.4" fill="#55656d"/>
<path d="M372,392 L384,392 L441,478 L432,470Z" fill="#2c383f" opacity="0.7"/>
<path d="M441.4,440 L462.2,458 L462.2,477 L441.4,478.5Z" fill="#1d272c" opacity="0.8"/>
<path d="M364.7,461.5 L364.7,432.5 L413,432.5 L413,461.8 L441.4,461.8 L441.4,469.5 L413,469.5 L407.5,461.5 L407.5,437.6 L370.3,437.6 L370.3,461.5 L368,468.3 L346,468.3 L346,461.5Z" fill="#ffffff"/>
<rect x="344" y="456.5" width="9" height="5.2" fill="#141a1e"/>
<rect x="382.8" y="422" width="3.6" height="11" fill="#ffffff"/><rect x="391.6" y="422" width="3.6" height="11" fill="#ffffff"/>
<path d="M348.8,451.5 L348.8,403.4 Q348.8,392.6 359.5,392.6 L446.5,392.6 L459.6,409 L459.6,475 L443.5,475" fill="none" stroke="#c8505f" stroke-width="4.3" stroke-linejoin="round" stroke-linecap="round"/>
<path d="M353.4,414 L353.4,451.5" stroke="#c8505f" stroke-width="3.4" stroke-linecap="round"/>
<path d="M351.4,414 L351.4,450" stroke="#8e2f3d" stroke-width="0.7"/>
<rect x="467.2" y="400.8" width="16.6" height="75.6" fill="url(#chH)"/>
<path d="M442.6,484 L463,480.2 L483.6,481 L483.6,495 C482,505 474,513 463,514.6 L450.6,514.4 L450.2,498 L443,494Z" fill="url(#nose)"/>
<rect x="435.6" y="501.8" width="10" height="14.4" fill="#10171b"/><path d="M432.5,503 L436,505 L436,513 L432.5,516Z" fill="#1a242a"/>
<path d="M432.4,504.6 L443.4,508.8 L432.4,513 M435.5,508.8 L437.5,508.8" fill="none" stroke="#ffffff" stroke-width="2.1" stroke-linecap="round" stroke-linejoin="round"/>
<path d="M437.2,327.7 L445,333.5 L445,350 L437.2,346.5Z" fill="#97a6af"/>
<path d="M450.4,331.5 L462.7,331.5 C472,334 481,343 484.2,353 L484.2,368.5 C480,370.6 474,371.6 469.6,370 L462,366 L450.4,350.8Z" fill="#192126"/>
<path d="M451.5,333 L462,332.8 C468,334.5 474,339 478,346 L466,356 L451.5,345Z" fill="#34424a" opacity="0.65"/>
<path d="M437,353 L455.8,372.3 L459,375.4 L440.4,375.4 L440.4,366.8 L437,366.8Z" fill="#1a2125"/>
<path d="M475.6,381 L479,377.6 L484.2,377 L484.2,393.4 L472.6,393.4Z" fill="#1a2328"/>
<path d="M467,376 C469.5,379 469.6,383.5 468,389.5" fill="none" stroke="#27333a" stroke-width="1.3"/>
<path d="M471.5,374.5 C475,377 475.6,381 474.2,385.5 L472.4,391.5" fill="none" stroke="#ffffff" stroke-width="2.6" stroke-linecap="round"/>
<rect x="346" y="379.5" width="117" height="4.1" fill="#10161a"/>
<rect x="344" y="366.8" width="96.4" height="8.6" fill="#e2222e"/>
<path d="M337.3,377.3 L343,376.2 L343,371.5 L345.5,369.8 L424.5,369.8 L428.5,375.4 L459.6,375.2 L458,380.8 L348.3,380.8 L348.3,387.6 L343.3,388 L343,380 L337.3,379.4Z" fill="#12d62c"/>
<path d="M345,377.2 L458.9,377.2 L458,380.8 L348.3,380.8 L348.3,387.6 L345,388Z" fill="#0db428" opacity="0.55"/>
<rect x="363.0" y="380" width="3.2" height="3.4" fill="#12d62c"/>
<rect x="389.59999999999997" y="380" width="3.2" height="3.4" fill="#12d62c"/>
<rect x="414.59999999999997" y="380" width="3.2" height="3.4" fill="#12d62c"/>
<path d="M269,473 L275,468 L290,467.4 L290,456.6 L331.4,456.6 L331.4,468.3 L368,468.3 L370.3,461.5 L370.3,437.6 L407.5,437.6 L407.5,461.5 L413,469.5 L436.4,469.5 L436.4,498 L416.5,498 L416.5,506.5 L413.7,509 L291.5,509 L269,515.6Z" fill="url(#rebate)"/>
<path d="M370.3,437.6 L407.5,437.6 L407.5,461.5 L413,469.5 L413,479 L366.3,479 L368,468.3 L370.3,461.5Z" fill="#1b2429"/>
<path d="M415.5,469.5 L420.5,469.5 L436.4,492 L436.4,498 L430,498Z" fill="#34424a" opacity="0.85"/><path d="M394,437.6 L401,437.6 L407.5,447 L407.5,459Z" fill="#34424a" opacity="0.85"/>
<path d="M413.7,469.5 L436.4,469.5 L436.4,498 L416.5,498 L416.5,506.5 L413.7,509Z" fill="#5f6f78" opacity="0.55"/>
<path d="M418,469.5 L436,497" stroke="#0e1417" stroke-width="1" opacity="0.45"/>
<rect x="375.5" y="446" width="3" height="2" fill="#6f7f88"/><rect x="390" y="446" width="3" height="2" fill="#6f7f88"/><rect x="385" y="460" width="4" height="2" fill="#6f7f88"/>
<path d="M366.3,479 L370,472.5 L412,472.5 L413.7,479Z" fill="#39454c"/>
<rect x="366.3" y="479" width="47.4" height="29.6" fill="url(#block)"/>
<path d="M390,498 L399.5,498 L399.5,508.5 L395.5,508.5 L394.5,503 L390,501.5Z" fill="#ffffff"/>
<rect x="409.8" y="498" width="6.7" height="10" fill="#ffffff"/>
<rect x="399.8" y="508.6" width="15.8" height="9" fill="#2f3b42"/>
<path d="M423.7,503 L430,511 L426,516 L423.7,513Z" fill="#ffffff"/><path d="M424.5,506.5 L428.5,511.5" stroke="#222c32" stroke-width="1.3"/>
<path d="M269,515.6 L291.5,509 L398,509 L398,515.6 L293,515.6 L276.5,520 L270.5,521 L263.2,518 L263.2,473Z" fill="#ffffff"/>
<path d="M243.3,463 L253.3,460 C255,466 259,470 262,473.2 L262.6,483 L262.6,500 L243.3,500Z" fill="url(#chv2)"/>
<path d="M243.3,505.7 L263.2,505.7 L263.2,518 L270.5,521 L267,551.6 L243.3,551.6Z" fill="url(#chv2)"/>
<rect x="243.3" y="555.8" width="23.3" height="34.9" fill="url(#chv2)"/>
<path d="M276.5,520 L289,517 L289,590.7 L270.7,590.7 L270.7,552Z" fill="url(#chv)"/>
<path d="M257,458 C258,451.5 266,449 272,450.5 C277,452 279,457 278.5,468 L270,474 L264,470 C259.5,467 256.5,462.5 257,458Z" fill="#ffffff"/>
<path d="M269.4,453.2 C264.5,453.4 261,456.4 261,460.2 C261,464 264.5,467 269.4,467.4" fill="none" stroke="#0d1316" stroke-width="2.6" stroke-linecap="round"/>
<rect x="267.6" y="459.8" width="3.4" height="1.5" rx="0.7" fill="#2a3a44"/>
<path d="M276.6,452.5 C278.5,455 279.8,458.5 280.2,462" fill="none" stroke="#31444f" stroke-width="1.3" stroke-linecap="round"/>
<rect x="293" y="515.6" width="101.6" height="75.1" fill="#0a0d0f"/>
<rect x="298" y="521.3" width="91" height="63.2" rx="4" fill="#0b0e10" stroke="#c8505f" stroke-width="4.6"/>
<rect x="295.5" y="548.6" width="5" height="1.3" fill="#0a0d0f"/>
<rect x="308" y="515.6" width="2.4" height="3" fill="#ffffff"/>
<rect x="389" y="515.6" width="2.4" height="3" fill="#ffffff"/>
<rect x="308" y="587.5" width="2.4" height="3.4" fill="#ffffff"/>
<rect x="330" y="587.5" width="2.4" height="3.4" fill="#ffffff"/>
<rect x="344" y="587.5" width="2.4" height="3.4" fill="#ffffff"/>
<rect x="389" y="587.5" width="2.4" height="3.4" fill="#ffffff"/>
<rect x="293" y="538" width="2.2" height="3" fill="#fff"/><rect x="293" y="572" width="2.2" height="3" fill="#fff"/><rect x="392.4" y="538" width="2.2" height="3" fill="#fff"/><rect x="392.4" y="572" width="2.2" height="3" fill="#fff"/>
<rect x="398.6" y="526.5" width="17.6" height="17.5" fill="url(#chv)"/>
<rect x="402" y="526.5" width="2.2" height="4" fill="#fff"/><rect x="406.5" y="526.5" width="2.2" height="4" fill="#fff"/><rect x="411" y="526.5" width="2.2" height="4" fill="#fff"/>
<rect x="398.6" y="548.3" width="17.6" height="42.4" fill="url(#chv)"/>
<rect x="412.2" y="554" width="4" height="2.6" fill="#fff"/></g>
</defs>
<rect width="1203" height="650" fill="#ffffff"/>
<use href="#winback"/>
<path d="M131.2,97 L221,97 L352,172.3 L352,219.7Z" fill="url(#hotIn)"/>
<path d="M361.5,177 L437,218.8 L479,242.5 L481.7,240.5 L484.2,249 L474.6,251.8 L475.2,250 L437,228.6 L426.5,231 L361.5,199Z" fill="url(#hotThru)"/>
<path d="M352,221 L231.9,287.7 L227.8,282.2 L219.6,308.5 L246.8,316.2 L243.5,310.4 L352,250.6Z" fill="url(#hotRefl)"/>
<path d="M426.5,225.6 L229.5,333 L225.6,331.8 L219.6,343.4 L230.8,346.8 L231,342.2 L426.5,234.8Z" fill="url(#hotRefl2)"/>
<use href="#winfront"/>
<use href="#prof"/>
<g transform="translate(476.5,0)"><use href="#winback"/></g>
<path d="M1033.2,97.5 L1122,97.5 L913.5,214.8 L913.5,164.4Z" fill="url(#warmIn)"/>
<path d="M903,171 L838.5,204.4 L838.5,220.8 L903,187.4Z" fill="#ff9a00"/>
<path d="M838.5,222.4 L1033.8,333 L1037.2,330.6 L1039.4,341.6 L1028.5,344 L1030,341.5 L838.5,233.8Z" fill="url(#warmRefl2)"/>
<path d="M913.5,215 L1026.9,280 L1030.5,276.4 L1039.7,303.2 L1013.1,311.5 L1015.7,306.9 L913.5,247.5Z" fill="url(#warmRefl)"/>
<g transform="translate(476.5,0)"><use href="#winfront"/><use href="#prof"/></g>
<circle cx="160" cy="36.3" r="10.5" fill="url(#sunD)"/>
<path d="M157.38,23.67 Q156.91,19.79 160.69,16.61 Q162.05,21.24 161.48,23.49Z" fill="url(#sunG)"/>
<path d="M164.04,24.05 Q165.58,20.45 170.44,19.60 Q169.30,24.28 167.69,25.94Z" fill="url(#sunG)"/>
<path d="M169.63,27.71 Q172.76,25.37 177.40,27.05 Q174.07,30.54 171.84,31.18Z" fill="url(#sunG)"/>
<path d="M172.63,33.68 Q176.51,33.21 179.69,36.99 Q175.06,38.35 172.81,37.78Z" fill="url(#sunG)"/>
<path d="M172.25,40.34 Q175.85,41.88 176.70,46.74 Q172.02,45.60 170.36,43.99Z" fill="url(#sunG)"/>
<path d="M168.59,45.93 Q170.93,49.06 169.25,53.70 Q165.76,50.37 165.12,48.14Z" fill="url(#sunG)"/>
<path d="M162.62,48.93 Q163.09,52.81 159.31,55.99 Q157.95,51.36 158.52,49.11Z" fill="url(#sunG)"/>
<path d="M155.96,48.55 Q154.42,52.15 149.56,53.00 Q150.70,48.32 152.31,46.66Z" fill="url(#sunG)"/>
<path d="M150.37,44.89 Q147.24,47.23 142.60,45.55 Q145.93,42.06 148.16,41.42Z" fill="url(#sunG)"/>
<path d="M147.37,38.92 Q143.49,39.39 140.31,35.61 Q144.94,34.25 147.19,34.82Z" fill="url(#sunG)"/>
<path d="M147.75,32.26 Q144.15,30.72 143.30,25.86 Q147.98,27.00 149.64,28.61Z" fill="url(#sunG)"/>
<path d="M151.41,26.67 Q149.07,23.54 150.75,18.90 Q154.24,22.23 154.88,24.46Z" fill="url(#sunG)"/>
<path d="M674.00,37.60 L674.00,19.80 M674.00,27.40 L670.20,23.30 M674.00,27.40 L677.80,23.30 M674.00,37.60 L686.59,25.01 M681.21,30.39 L681.42,24.80 M681.21,30.39 L686.80,30.18 M674.00,37.60 L691.80,37.60 M684.20,37.60 L688.30,33.80 M684.20,37.60 L688.30,41.40 M674.00,37.60 L686.59,50.19 M681.21,44.81 L686.80,45.02 M681.21,44.81 L681.42,50.40 M674.00,37.60 L674.00,55.40 M674.00,47.80 L677.80,51.90 M674.00,47.80 L670.20,51.90 M674.00,37.60 L661.41,50.19 M666.79,44.81 L666.58,50.40 M666.79,44.81 L661.20,45.02 M674.00,37.60 L656.20,37.60 M663.80,37.60 L659.70,41.40 M663.80,37.60 L659.70,33.80 M674.00,37.60 L661.41,25.01 M666.79,30.39 L661.20,30.18 M666.79,30.39 L666.58,24.80" fill="none" stroke="url(#snowG)" stroke-width="2.9" stroke-linecap="round" stroke-linejoin="round"/>
<text x="190" y="45.1" font-size="16.2" fill="#f47b20" font-weight="normal" textLength="51.7" lengthAdjust="spacingAndGlyphs" >Работа</text>
<text x="246.7" y="45.1" font-size="16.2" fill="#303030" font-weight="normal" textLength="265" lengthAdjust="spacingAndGlyphs" >энергосберегающего стеклопакета</text>
<text x="190" y="67.4" font-size="16.2" fill="#f47b20" font-weight="bold" textLength="130.7" lengthAdjust="spacingAndGlyphs" >в летний период</text>
<text x="705.5" y="42.0" font-size="16.2" fill="#1685cf" font-weight="normal" textLength="51.5" lengthAdjust="spacingAndGlyphs" >Работа</text>
<text x="762" y="42.0" font-size="16.2" fill="#303030" font-weight="normal" textLength="265.4" lengthAdjust="spacingAndGlyphs" >энергосберегающего стеклопакета</text>
<text x="705.5" y="64.7" font-size="16.2" fill="#0f7bc6" font-weight="bold" textLength="134.7" lengthAdjust="spacingAndGlyphs" >в зимний период</text>
<text x="79.5" y="102.5" font-size="15.6" fill="#858585" font-weight="normal" textLength="42.3" lengthAdjust="spacingAndGlyphs" >Улица</text>
<text x="472.3" y="102.5" font-size="15.6" fill="#858585" font-weight="normal" textLength="31.2" lengthAdjust="spacingAndGlyphs" >Дом</text>
<text x="670.4" y="102.5" font-size="15.6" fill="#858585" font-weight="normal" textLength="42.9" lengthAdjust="spacingAndGlyphs" >Улица</text>
<text x="959.6" y="102.5" font-size="15.6" fill="#858585" font-weight="normal" textLength="30" lengthAdjust="spacingAndGlyphs" >Дом</text>
<text x="471.8" y="144.1" font-size="16.1" fill="#1f1f1f" font-weight="normal" textLength="46.7" lengthAdjust="spacingAndGlyphs" >Аргон</text>
<text x="670.9" y="144.1" font-size="16.1" fill="#1f1f1f" font-weight="normal" textLength="46.1" lengthAdjust="spacingAndGlyphs" >Аргон</text>
<text x="487.3" y="186.7" font-size="16.1" fill="#1f1f1f" font-weight="normal" textLength="159.1" lengthAdjust="spacingAndGlyphs" >Энергосберегающее</text>
<text x="487.3" y="208" font-size="16.1" fill="#1f1f1f" font-weight="normal" textLength="52.4" lengthAdjust="spacingAndGlyphs" >стекло</text>
<text x="84.2" y="212.2" font-size="16.1" fill="#1f1f1f" font-weight="normal" textLength="179.1" lengthAdjust="spacingAndGlyphs" >Многофункциональное</text>
<text x="84.2" y="233.4" font-size="16.1" fill="#1f1f1f" font-weight="normal" textLength="51.4" lengthAdjust="spacingAndGlyphs" >стекло</text>
<text x="961.6" y="211" font-size="16.1" fill="#1f1f1f" font-weight="normal" textLength="159.1" lengthAdjust="spacingAndGlyphs" >Энергосберегающее</text>
<text x="961.6" y="232.1" font-size="16.1" fill="#1f1f1f" font-weight="normal" textLength="52.4" lengthAdjust="spacingAndGlyphs" >стекло</text>
<text x="537" y="282.4" font-size="16.1" fill="#1f1f1f" font-weight="normal" textLength="178.8" lengthAdjust="spacingAndGlyphs" >Многофункциональное</text>
<text x="537" y="303.6" font-size="16.1" fill="#1f1f1f" font-weight="normal" textLength="50.8" lengthAdjust="spacingAndGlyphs" >стекло</text>
<text transform="translate(189.5,110.5) rotate(29.5)" font-size="18" fill="#ffffff" textLength="49" lengthAdjust="spacingAndGlyphs" y="3">жара</text>
<text transform="translate(1006,144.5) rotate(-29.3)" font-size="18" fill="#ffffff" textLength="56" lengthAdjust="spacingAndGlyphs">тепло</text>
<path d="M84,240.6 L358.3,240.6" fill="none" stroke="#19b5ec" stroke-width="1.2"/><circle cx="358.3" cy="240.6" r="2.1" fill="#19b5ec"/>
<path d="M421.2,149.3 L521.4,149.3" fill="none" stroke="#19b5ec" stroke-width="1.2"/><circle cx="421.2" cy="149.3" r="2.1" fill="#19b5ec"/>
<path d="M648.6,213.9 L487.8,213.9 L432.4,243.4" fill="none" stroke="#19b5ec" stroke-width="1.2"/><circle cx="432.4" cy="243.4" r="2.1" fill="#19b5ec"/>
<path d="M665.9,149.4 L844.4,149.4" fill="none" stroke="#19b5ec" stroke-width="1.2"/><circle cx="844.4" cy="149.4" r="2.1" fill="#19b5ec"/>
<path d="M892.3,239.4 L1118,239.4" fill="none" stroke="#19b5ec" stroke-width="1.2"/><circle cx="892.3" cy="239.4" r="2.1" fill="#19b5ec"/>
<path d="M535,311.8 L747,311.8 L834.9,263.5" fill="none" stroke="#19b5ec" stroke-width="1.2"/><circle cx="834.9" cy="263.5" r="2.1" fill="#19b5ec"/>
</svg></body></html>
